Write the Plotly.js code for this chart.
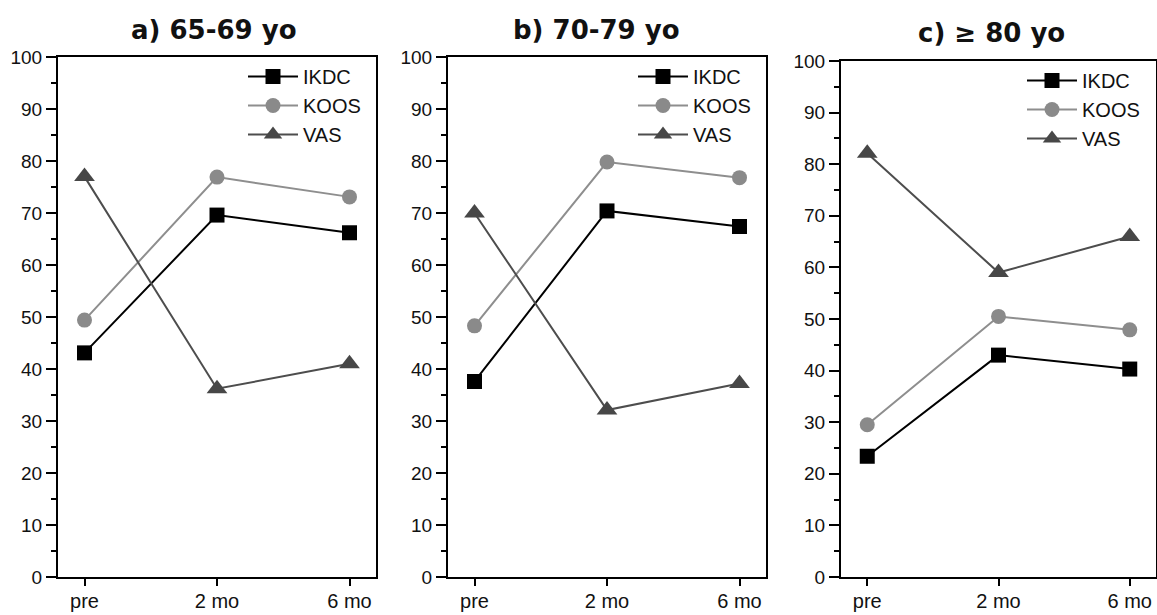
<!DOCTYPE html>
<html>
<head>
<meta charset="utf-8">
<script src="https://cdn.plot.ly/plotly-3.0.1.min.js"></script>
<style>html,body{margin:0;padding:0;background:#fff;}#chart{width:1157px;height:615px;}</style>
</head>
<body>
<div id="chart"></div>
<script>
// ---- data ----
const timepoints = ["pre", "2 mo", "6 mo"];
const panelTitles = ["a) 65-69 yo", "b) 70-79 yo", "c) \u2265 80 yo"];
const seriesNames = ["IKDC", "KOOS", "VAS"];

const ikdc_65_69 = [43.1, 69.6, 66.2];
const koos_65_69 = [49.4, 76.9, 73.1];
const vas_65_69  = [77.0, 36.2, 41.0];

const ikdc_70_79 = [37.6, 70.4, 67.4];
const koos_70_79 = [48.3, 79.8, 76.8];
const vas_70_79  = [70.0, 32.1, 37.2];

const ikdc_80 = [23.4, 43.0, 40.3];
const koos_80 = [29.5, 50.5, 47.9];
const vas_80  = [82.1, 59.0, 66.0];

const panelData = [
  [ikdc_65_69, koos_65_69, vas_65_69],
  [ikdc_70_79, koos_70_79, vas_70_79],
  [ikdc_80, koos_80, vas_80]
];

// ---- styles ----
const W = 1157, H = 615;
const lineColors = ["#000000", "#8e8e8e", "#4d4d4d"];
const markerColors = ["#000000", "#8a8a8a", "#474747"];
const symbols = ["square", "circle", "triangle-up"];
const markerSizes = [15, 15, 18];

// pixel geometry of each panel [left, right, top, bottom]
const boxes = [
  [58, 376, 57, 577],
  [448, 766, 57, 577],
  [841, 1156, 61, 577]
];
const titlePos = [[214, 30], [596, 30], [991, 33]];
const legendPos = [[243, 57], [633, 57], [1022, 61]];

const traces = [];
const layout = {
  width: W, height: H,
  margin: {l: 0, r: 0, t: 0, b: 0},
  paper_bgcolor: "#ffffff",
  plot_bgcolor: "#ffffff",
  font: {family: "Liberation Sans, Arial, sans-serif", color: "#111"},
  annotations: [],
  showlegend: true
};

panelData.forEach((series, p) => {
  const sfx = p === 0 ? "" : String(p + 1);
  const legName = "legend" + sfx;
  series.forEach((vals, s) => {
    traces.push({
      type: "scatter", mode: "lines+markers",
      x: timepoints, y: vals, name: seriesNames[s],
      xaxis: "x" + sfx, yaxis: "y" + sfx,
      legend: legName,
      line: {color: lineColors[s], width: 2},
      marker: {symbol: symbols[s], size: markerSizes[s], color: markerColors[s], line: {width: 0}},
      cliponaxis: false
    });
  });
  const b = boxes[p];
  layout["xaxis" + sfx] = {
    type: "category",
    domain: [b[0] / W, b[1] / W],
    range: [-0.2, 2.2],
    anchor: "y" + sfx,
    showline: true, linecolor: "#000", linewidth: 2, mirror: true,
    ticks: "outside", ticklen: 7, tickwidth: 2, tickcolor: "#000",
    ticklabelstandoff: -2,
    showgrid: false, zeroline: false,
    tickfont: {size: 20, family: "Liberation Sans, Arial, sans-serif", color: "#111"},
    fixedrange: true
  };
  layout["yaxis" + sfx] = {
    domain: [1 - b[3] / H, 1 - b[2] / H],
    range: [0, 100],
    dtick: 10, tick0: 0,
    anchor: "x" + sfx,
    showline: true, linecolor: "#000", linewidth: 2, mirror: true,
    ticks: "outside", ticklen: 10, tickwidth: 2, tickcolor: "#000",
    minor: {dtick: 5, ticks: "outside", ticklen: 5, tickwidth: 2, tickcolor: "#000", showgrid: false},
    showgrid: false, zeroline: false,
    tickfont: {size: 19, family: "Liberation Sans, Arial, sans-serif", color: "#111"},
    fixedrange: true
  };
  layout[legName] = {
    x: legendPos[p][0] / W, y: 1 - legendPos[p][1] / H,
    xanchor: "left", yanchor: "top",
    bgcolor: "rgba(0,0,0,0)", borderwidth: 0,
    font: {size: 20, family: "Liberation Sans, Arial, sans-serif", color: "#111"},
    tracegroupgap: 0, itemwidth: 50
  };
  layout.annotations.push({
    text: "<b>" + panelTitles[p] + "</b>",
    xref: "paper", yref: "paper",
    x: titlePos[p][0] / W, y: 1 - titlePos[p][1] / H,
    xanchor: "center", yanchor: "middle", showarrow: false,
    font: {size: 26, family: "DejaVu Sans, Verdana, sans-serif", color: "#111"}
  });
});

Plotly.newPlot("chart", traces, layout, {displayModeBar: false, staticPlot: true});
</script>
</body>
</html>
